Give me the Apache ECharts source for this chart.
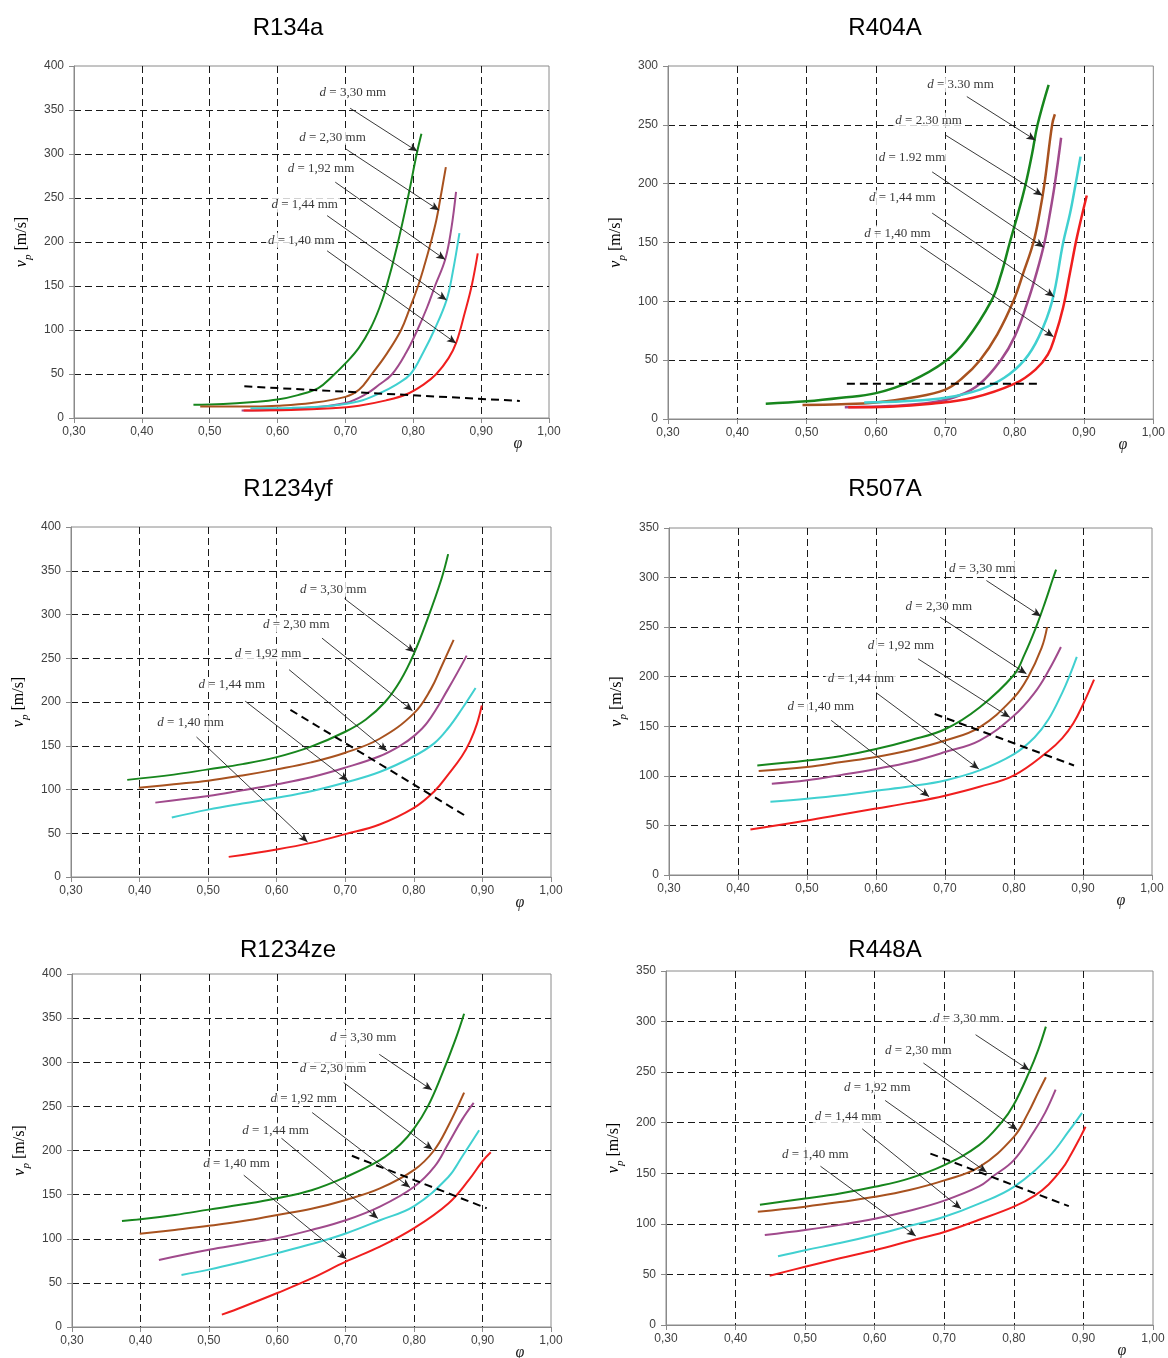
<!DOCTYPE html>
<html><head><meta charset="utf-8">
<script src="https://cdn.jsdelivr.net/npm/echarts@6/dist/echarts.min.js"></script>
<style>html,body{margin:0;padding:0;background:#fff}#c{width:1168px;height:1358px}</style>
</head><body><div id="c"></div>
<script>
// ---------- DATA ----------
const titles = ['R134a', 'R404A', 'R1234yf', 'R507A', 'R1234ze', 'R448A'];
const yMaxes = [400, 300, 400, 350, 400, 350];
const xTicks = [0.30, 0.40, 0.50, 0.60, 0.70, 0.80, 0.90, 1.00];
const dLabels = [
  ['3,30', '2,30', '1,92', '1,44', '1,40'],
  ['3.30', '2.30', '1.92', '1,44', '1,40'],
  ['3,30', '2,30', '1,92', '1,44', '1,40'],
  ['3,30', '2,30', '1,92', '1,44', '1,40'],
  ['3,30', '2,30', '1,92', '1,44', '1,40'],
  ['3,30', '2,30', '1,92', '1,44', '1,40']
];

// R134a
const R134a_d330 = [[0.476,15],[0.52,16],[0.56,18],[0.60,21],[0.63,26],[0.66,34],[0.68,47],[0.70,62],[0.72,80],[0.737,102],[0.75,125],[0.76,148],[0.776,195],[0.792,250],[0.805,300],[0.812,323]];
const R134a_d230 = [[0.486,13],[0.55,13],[0.60,14],[0.65,17],[0.70,24],[0.72,32],[0.739,50],[0.76,72],[0.782,100],[0.795,125],[0.807,150],[0.817,175],[0.826,200],[0.834,225],[0.840,250],[0.848,285]];
const R134a_d192 = [[0.547,8.5],[0.60,9.5],[0.65,12],[0.70,17],[0.73,27],[0.75,38],[0.769,50],[0.79,75],[0.806,100],[0.82,125],[0.832,150],[0.847,180],[0.856,215],[0.863,257]];
const R134a_d144 = [[0.56,11],[0.62,11.5],[0.68,14],[0.72,19],[0.75,28],[0.775,38],[0.796,50],[0.815,75],[0.831,100],[0.849,134],[0.858,165],[0.868,210]];
const R134a_d140 = [[0.55,8.5],[0.62,9],[0.68,11],[0.72,14],[0.76,20],[0.79,27],[0.815,38],[0.834,50],[0.852,68],[0.863,85],[0.876,120],[0.886,150],[0.895,187]];
const R134a_limit = [[0.551,36],[0.957,19.4]];

// R404A
const R404A_d330 = [[0.441,13],[0.50,15],[0.55,18],[0.60,22],[0.65,32],[0.70,49],[0.73,67],[0.766,100],[0.78,122],[0.793,150],[0.805,175],[0.816,200],[0.825,225],[0.833,250],[0.849,284]];
const R404A_d230 = [[0.494,12],[0.55,12.5],[0.60,14],[0.65,18],[0.70,25],[0.725,35],[0.75,50],[0.775,72],[0.798,100],[0.813,125],[0.827,150],[0.836,175],[0.843,200],[0.854,250],[0.858,259]];
const R404A_d192 = [[0.555,10],[0.62,11],[0.68,14],[0.72,20],[0.75,30],[0.78,50],[0.80,70],[0.819,100],[0.832,125],[0.843,150],[0.851,175],[0.858,200],[0.867,239]];
const R404A_d144 = [[0.583,14],[0.64,15],[0.70,18],[0.75,25],[0.785,35],[0.814,50],[0.835,70],[0.854,100],[0.870,150],[0.880,175],[0.888,200],[0.895,223]];
const R404A_d140 = [[0.56,10],[0.62,10.5],[0.68,13],[0.74,18],[0.80,30],[0.83,42],[0.848,55],[0.858,70],[0.87,95],[0.88,125],[0.89,155],[0.904,190]];
const R404A_limit = [[0.558,30],[0.833,30]];

// R1234yf
const R1234yf_d330 = [[0.382,111],[0.45,117],[0.50,123],[0.55,129],[0.60,137],[0.65,149],[0.70,166],[0.73,180],[0.758,200],[0.78,224],[0.80,255],[0.82,295],[0.84,340],[0.850,369]];
const R1234yf_d230 = [[0.399,102],[0.45,106],[0.50,110],[0.55,116],[0.60,123],[0.65,131],[0.70,142],[0.75,158],[0.80,187],[0.825,215],[0.84,240],[0.858,271]];
const R1234yf_d192 = [[0.423,85],[0.50,92.5],[0.55,99],[0.60,106],[0.65,114],[0.70,125],[0.75,138],[0.78,150],[0.80,161],[0.82,177],[0.85,215],[0.877,253]];
const R1234yf_d144 = [[0.447,68],[0.50,77],[0.55,84],[0.60,90.5],[0.65,98],[0.70,108],[0.75,120],[0.80,138],[0.83,153],[0.85,170],[0.87,192],[0.890,216]];
const R1234yf_d140 = [[0.530,23],[0.60,31.5],[0.65,39],[0.70,49],[0.75,60],[0.80,79],[0.83,98],[0.85,117],[0.87,138],[0.882,155],[0.892,175],[0.899,196]];
const R1234yf_limit = [[0.620,191],[0.875,70]];

// R507A
const R507A_d330 = [[0.428,110.5],[0.50,115.5],[0.55,120],[0.60,127],[0.65,136],[0.70,147],[0.75,169],[0.80,202],[0.815,222],[0.832,250],[0.845,275],[0.856,298],[0.861,308]];
const R507A_d230 = [[0.430,105],[0.50,109],[0.55,114],[0.60,119],[0.65,126],[0.70,135.6],[0.75,149],[0.80,179],[0.82,199],[0.84,229],[0.848,250]];
const R507A_d192 = [[0.449,92],[0.50,95.5],[0.55,101],[0.60,107],[0.65,114],[0.70,124],[0.75,135.6],[0.80,160.8],[0.83,184],[0.85,206],[0.868,230]];
const R507A_d144 = [[0.447,74],[0.50,77],[0.55,80.5],[0.60,85],[0.65,89.5],[0.70,95.4],[0.75,105.5],[0.80,122],[0.83,139],[0.85,157],[0.87,184],[0.88,200],[0.891,220]];
const R507A_d140 = [[0.418,46],[0.50,55],[0.55,61],[0.60,67],[0.65,73],[0.70,80],[0.75,89],[0.80,100.5],[0.85,125],[0.87,138],[0.886,153],[0.90,172],[0.916,197]];
const R507A_limit = [[0.685,162.4],[0.887,110.5]];

// R1234ze
const R1234ze_d330 = [[0.373,120],[0.40,122],[0.45,127],[0.50,133],[0.55,139],[0.60,146],[0.65,155],[0.70,170],[0.75,189],[0.78,207],[0.80,225],[0.82,250],[0.84,285],[0.86,325],[0.873,355]];
const R1234ze_d230 = [[0.399,105.6],[0.45,110],[0.50,114.6],[0.55,120],[0.60,127],[0.65,134],[0.70,144],[0.75,157],[0.80,178],[0.829,200],[0.85,228],[0.873,265.5]];
const R1234ze_d192 = [[0.427,76],[0.50,87.5],[0.55,94],[0.60,100.7],[0.65,110],[0.70,121],[0.75,136.5],[0.80,159],[0.83,182],[0.85,208],[0.87,235],[0.887,254]];
const R1234ze_d144 = [[0.460,59],[0.50,65],[0.55,74],[0.60,83.7],[0.65,94],[0.70,106],[0.75,121],[0.80,137],[0.85,170],[0.87,193],[0.895,223]];
const R1234ze_d140 = [[0.519,14],[0.55,23],[0.60,38.5],[0.65,55],[0.70,74],[0.75,91],[0.80,112],[0.85,140],[0.88,166.7],[0.90,188],[0.912,198]];
const R1234ze_limit = [[0.709,194],[0.906,134.6]];

// R448A
const R448A_d330 = [[0.435,119],[0.50,125],[0.55,130],[0.60,136.6],[0.65,145],[0.70,158],[0.75,177.8],[0.782,200],[0.80,218],[0.822,250],[0.835,272],[0.846,295]];
const R448A_d230 = [[0.432,112],[0.50,117],[0.55,121.5],[0.60,126.7],[0.65,133.5],[0.70,143],[0.75,156],[0.80,186],[0.82,209],[0.835,230],[0.846,245]];
const R448A_d192 = [[0.442,89],[0.50,94],[0.55,99],[0.60,105],[0.65,113],[0.70,123],[0.75,137],[0.77,147],[0.80,163],[0.83,192.6],[0.845,210],[0.860,232.7]];
const R448A_d144 = [[0.461,68],[0.50,74],[0.55,81],[0.60,89],[0.65,98],[0.70,107],[0.75,120],[0.80,136.6],[0.85,166],[0.88,192.6],[0.898,209.7]];
const R448A_d140 = [[0.449,48.7],[0.50,57.6],[0.55,66],[0.60,74],[0.65,83],[0.70,92],[0.75,104],[0.80,117],[0.83,128],[0.85,139],[0.87,155],[0.88,166],[0.895,185],[0.903,196]];
const R448A_limit = [[0.680,169.5],[0.879,117.5]];

// Annotations: [text φ, text v, arrow φ1, v1, arrow φ2, v2]
const R134a_notes = [[0.659,370,0.707,352,0.806,303],[0.629,319,0.70,306,0.838,236],[0.612,284,0.685,268,0.847,180],[0.588,242,0.673,230,0.849,134],[0.583,202,0.673,190,0.863,85]];
const R404A_notes = [[0.671,284,0.731,274,0.830,237],[0.625,254,0.701,241,0.840,190],[0.601,222,0.681,210,0.842,146],[0.587,188,0.681,175,0.857,104],[0.580,158,0.664,147,0.856,70]];
const R1234yf_notes = [[0.631,329,0.699,318,0.801,257],[0.577,288,0.666,273,0.798,190],[0.536,255,0.618,237,0.761,144],[0.483,220,0.554,201,0.704,110],[0.423,176,0.483,160,0.645,40]];
const R507A_notes = [[0.703,309,0.760,297,0.839,261],[0.640,271,0.693,260,0.818,203],[0.585,231,0.661,218,0.794,159],[0.527,198,0.600,184,0.749,107],[0.469,170,0.535,156,0.677,79]];
const R1234ze_notes = [[0.674,328,0.749,309,0.826,268.5],[0.630,293,0.697,277,0.827,201],[0.587,259,0.651,243,0.794,158],[0.546,223,0.606,214,0.747,123],[0.489,185,0.551,172,0.701,77]];
const R448A_notes = [[0.681,303,0.745,287,0.822,252],[0.612,271,0.670,259,0.805,193],[0.553,235,0.615,222,0.761,151],[0.511,206,0.582,194,0.724,115],[0.464,168.5,0.522,157,0.659,88]];

// ---------- ASSEMBLY ----------
const panels = [
  {curves:[R134a_d330,R134a_d230,R134a_d192,R134a_d144,R134a_d140], limit:R134a_limit, notes:R134a_notes},
  {curves:[R404A_d330,R404A_d230,R404A_d192,R404A_d144,R404A_d140], limit:R404A_limit, notes:R404A_notes},
  {curves:[R1234yf_d330,R1234yf_d230,R1234yf_d192,R1234yf_d144,R1234yf_d140], limit:R1234yf_limit, notes:R1234yf_notes},
  {curves:[R507A_d330,R507A_d230,R507A_d192,R507A_d144,R507A_d140], limit:R507A_limit, notes:R507A_notes},
  {curves:[R1234ze_d330,R1234ze_d230,R1234ze_d192,R1234ze_d144,R1234ze_d140], limit:R1234ze_limit, notes:R1234ze_notes},
  {curves:[R448A_d330,R448A_d230,R448A_d192,R448A_d144,R448A_d140], limit:R448A_limit, notes:R448A_notes}
];
const colors = ['#17861d', '#a8521f', '#a04a8c', '#40d0d0', '#f01e1e'];
// plot rectangles [left, top, right, bottom]
const rects = [[74,66,549,418],[668,66,1154,419],[71,527,551,877],[669,528,1152,875],[72,974,551,1327],[666,971,1153,1325]];
const titlePos = [[288,28],[885,28],[288,489],[885,489],[288,950],[885,950]];

const serif = '"Liberation Serif", "Times New Roman", serif';
const sans = '"Liberation Sans", Arial, sans-serif';
const axisGray = '#8a8a8a';

const grid = [], xAxis = [], yAxis = [], series = [], graphic = [];
panels.forEach((p, i) => {
  const r = rects[i];
  grid.push({left:r[0], top:r[1], width:r[2]-r[0], height:r[3]-r[1], show:true, borderColor:axisGray, borderWidth:1, backgroundColor:'#fff', containLabel:false});
  xAxis.push({
    gridIndex:i, type:'value', min:xTicks[0], max:xTicks[xTicks.length-1], interval:0.1,
    axisLine:{show:true, onZero:false, lineStyle:{color:axisGray, width:1}},
    axisTick:{show:true, inside:false, length:5, lineStyle:{color:axisGray}},
    axisLabel:{margin:8, color:'#404040', fontFamily:sans, fontSize:12, formatter:v => v.toFixed(2).replace('.', ',')},
    splitLine:{show:true, showMinLine:false, showMaxLine:false, lineStyle:{color:'#1a1a1a', width:1, type:[7,4]}}
  });
  yAxis.push({
    gridIndex:i, type:'value', min:0, max:yMaxes[i], interval:50,
    name:'{v|v}{p|p} [m/s]', nameLocation:'middle', nameGap:40, nameRotate:90,
    nameTextStyle:{fontFamily:serif, fontSize:16, color:'#000', rich:{
      v:{fontFamily:serif, fontStyle:'italic', fontSize:16, color:'#000'},
      p:{fontFamily:serif, fontStyle:'italic', fontSize:11, color:'#000', verticalAlign:'bottom', lineHeight:24}
    }},
    axisLine:{show:true, onZero:false, lineStyle:{color:axisGray, width:1}},
    axisTick:{show:true, inside:false, length:5, lineStyle:{color:axisGray}},
    axisLabel:{margin:10, color:'#404040', fontFamily:sans, fontSize:12},
    splitLine:{show:true, showMinLine:false, showMaxLine:false, lineStyle:{color:'#1a1a1a', width:1, type:[7,4]}}
  });
  p.curves.forEach((c, k) => {
    series.push({type:'line', xAxisIndex:i, yAxisIndex:i, data:c, showSymbol:false, symbol:'none',
      smooth:0.4, silent:true, z:3,
      lineStyle:{color:colors[k], width:(i===1?2.5:2)}});
  });
  series.push({type:'line', xAxisIndex:i, yAxisIndex:i, data:p.limit, showSymbol:false, symbol:'none', silent:true, z:4,
    lineStyle:{color:'#000', width:2, type:[8,5]}});
  series.push({
    type:'scatter', xAxisIndex:i, yAxisIndex:i, symbolSize:0, silent:true, z:5,
    data:p.notes.map((n, k) => ({value:[n[0], n[1]], name:dLabels[i][k]})),
    label:{show:true, position:'right', distance:0, formatter:pp => '{i|d} = ' + pp.name + ' mm',
      fontFamily:serif, fontSize:13, color:'#000', backgroundColor:'#fff', padding:[1,2],
      rich:{i:{fontFamily:serif, fontStyle:'italic', fontSize:13, color:'#000'}}},
    markLine:{silent:true, symbol:['none','arrow'], symbolSize:[6,9], animation:false,
      lineStyle:{color:'#222', width:0.9, type:'solid'}, label:{show:false},
      data:p.notes.map(n => [{coord:[n[2], n[3]]}, {coord:[n[4], n[5]]}])}
  });
  graphic.push({type:'text', x:titlePos[i][0], y:titlePos[i][1], silent:true,
    style:{text:titles[i], fontFamily:sans, fontSize:24, fill:'#000', align:'center', verticalAlign:'middle'}});
  graphic.push({type:'text', x:r[2]-31, y:r[3]+26, silent:true,
    style:{text:'φ', fontFamily:serif, fontStyle:'italic', fontSize:16, fill:'#222', align:'center', verticalAlign:'middle'}});
});

const chart = echarts.init(document.getElementById('c'), null, {renderer:'canvas'});
chart.setOption({animation:false, backgroundColor:'#fff', grid, xAxis, yAxis, series, graphic});
</script>
</body></html>
